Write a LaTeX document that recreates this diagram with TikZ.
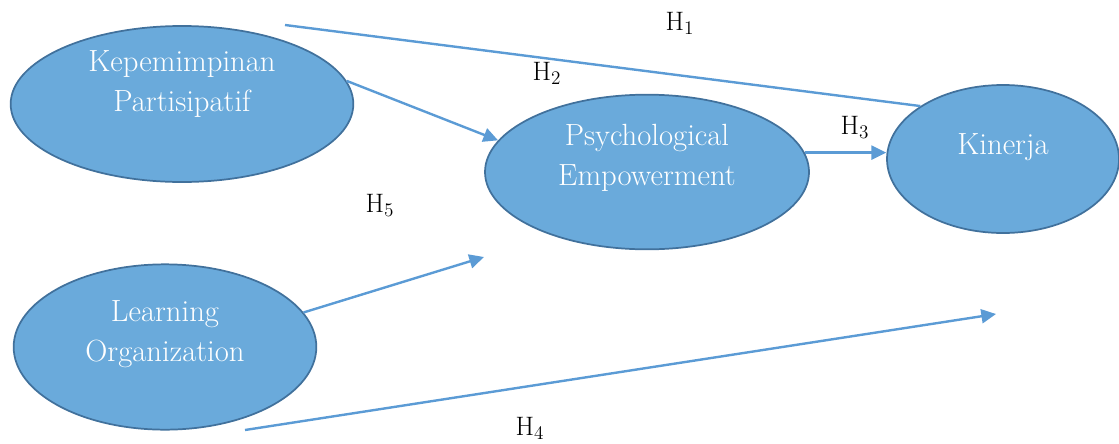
\documentclass[tikz,border=0pt]{standalone}
\usetikzlibrary{shapes.geometric,arrows.meta,positioning}
\definecolor{fillblue}{HTML}{6AAADB}
\definecolor{edgeblue}{HTML}{41719C}
\definecolor{linkblue}{HTML}{5B9BD5}
\tikzset{
    factor/.style ={
        shape=ellipse,
        draw=edgeblue,
        fill=fillblue,
        line width=1.3pt,
        inner sep=0pt
    },
    caption/.style ={
        text=white,
        align=center,
        font=\fontsize{23}{30}\selectfont
    },
    link/.style ={
        draw=linkblue,
        line width=1.8pt,
        -{Triangle[length=11pt,width=10.5pt]}
    },
    hyp/.style ={
        font=\fontsize{20}{24}\selectfont
    }
}
\begin{document}
\begin{tikzpicture}[x=0.75pt,y=-0.75pt]
    \useasboundingbox (0,0) rectangle (1119,443);
    \node[factor,minimum width=257pt,minimum height=117pt,
        label={[caption,yshift=15pt]center:Kepemimpinan\\Partisipatif}] (kp) at (182,104) {};
    \node[factor,minimum width=243pt,minimum height=116pt,
        label={[caption,yshift=10.5pt]center:Psychological\\Empowerment}] (pe) at (647,172) {};
    \node[factor,minimum width=174pt,minimum height=111pt,
        label={[caption,yshift=9pt]center:Kinerja}] (kin) at (1003,159) {};
    \node[factor,minimum width=227pt,minimum height=124pt,
        label={[caption,yshift=10pt]center:Learning\\Organization}] (lo) at (165,347) {};
    \coordinate (h1s) at (285,25);
    \coordinate (h5e) at (484,257);
    \coordinate (h4s) at (245,430);
    \coordinate (h4e) at (996,314);
    \node[hyp] (h1) at (680,23) {H$_1$};
    \node[hyp] (h2) at (547,73) {H$_2$};
    \node[hyp] (h3) at (855,127) {H$_3$};
    \node[hyp] (h5) at (380,205) {H$_5$};
    \node[hyp] (h4) at (530,428) {H$_4$};
    \draw[link,-] (h1s) -- (kin.north west);
    \draw[link] (kp.8) -- (pe.168);
    \draw[link] (pe.7) -- (pe.7 -| kin.west);
    \draw[link] (lo.14) -- (h5e);
    \draw[link] (h4s) -- (h4e);
\end{tikzpicture}
\end{document}
